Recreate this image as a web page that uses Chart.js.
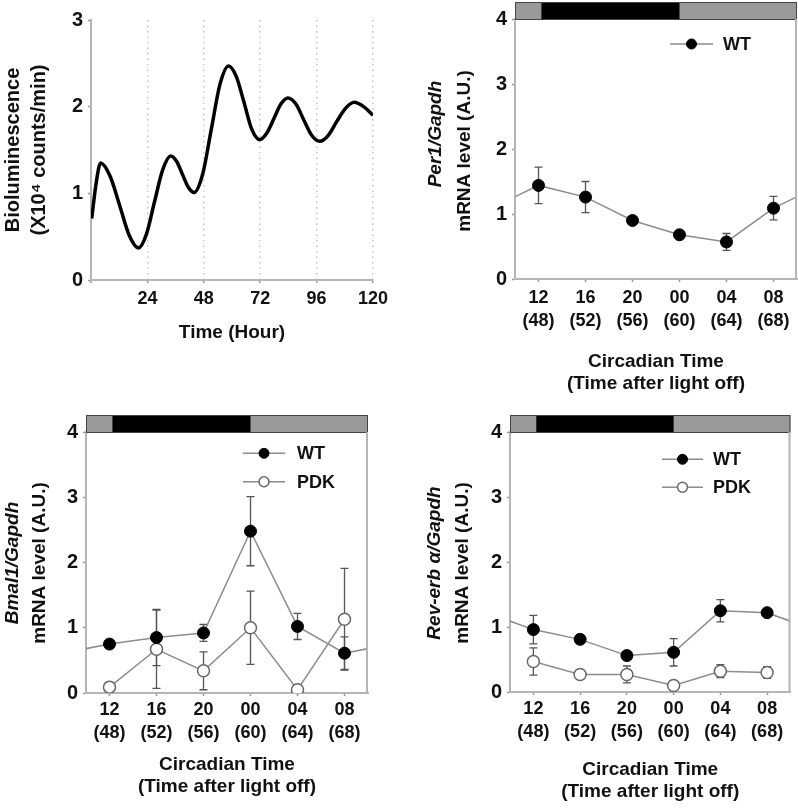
<!DOCTYPE html>
<html>
<head>
<meta charset="utf-8">
<script src="https://cdn.jsdelivr.net/npm/chart.js@4.4.0/dist/chart.umd.min.js"></script>
<style>
	body { margin: 0; background: #fff; }
	.wrap { position: relative; width: 798px; height: 808px; }
	canvas { position: absolute; }
</style>
</head>
<body>
<div class="wrap">
	<canvas id="bio" width="399" height="404" style="left:0;top:0"></canvas>
	<canvas id="per1" width="399" height="404" style="left:399px;top:0"></canvas>
	<canvas id="bmal1" width="399" height="404" style="left:0;top:404px"></canvas>
	<canvas id="reverb" width="399" height="404" style="left:399px;top:404px"></canvas>
</div>
<script>
const FONT = '"Liberation Sans", Arial, sans-serif';

// bioluminiscencia (horas / valores)
const bioHours = [
	0.3, 2.2, 4.1, 8.1, 12.2, 16.2, 20.2, 23.6, 27, 30.5, 33.9, 36.4, 38.9, 41.4, 43.9, 47.5, 51.2, 54.9, 58.5, 61.8, 65.1,
	68.4, 71.7, 74.7, 77.8, 80.8, 83.8, 87.2, 90.5, 93.9, 97.3, 101, 104.6, 108.3, 112, 116, 120,
];
const bioValues = [
	0.71, 1.12, 1.35, 1.2, 0.86, 0.52, 0.37, 0.53, 0.9, 1.27, 1.43, 1.37, 1.22, 1.07, 1.01, 1.22, 1.74, 2.26, 2.47, 2.35, 2.05,
	1.74, 1.62, 1.69, 1.86, 2.03, 2.1, 2.03, 1.85, 1.67, 1.6, 1.67, 1.83, 1.98, 2.05, 2.0, 1.9,
];
const bioXTicks = [0, 24, 48, 72, 96, 120];

// tiempos de muestreo
const sampleHours = [48, 52, 56, 60, 64, 68];
const ctLabels = ["12", "16", "20", "00", "04", "08"];
const lightOff = 48.25;
const lightOn = 60;

// Per1
const per1WT = [1.44, 1.26, 0.9, 0.68, 0.57, 1.09];
const per1WTErr = [0.28, 0.24, 0.04, 0.04, 0.13, 0.18];

// Bmal1
const bmal1WT = [0.75, 0.85, 0.92, 2.48, 1.02, 0.61];
const bmal1WTErr = [0.04, 0.43, 0.13, 0.53, 0.2, 0.25];
const bmal1PDK = [0.09, 0.67, 0.34, 1.0, 0.05, 1.13];
const bmal1PDKErr = [0.03, 0.6, 0.29, 0.56, 0.02, 0.78];

// Rev-erb alpha
const revWT = [0.96, 0.81, 0.56, 0.61, 1.25, 1.22];
const revWTErr = [0.22, 0.06, 0.04, 0.21, 0.17, 0.05];
const revPDK = [0.47, 0.27, 0.27, 0.1, 0.32, 0.3];
const revPDKErr = [0.21, 0.05, 0.13, 0.04, 0.1, 0.09];

Chart.defaults.font.family = FONT;
Chart.defaults.color = "#111";

//puntos con barra de error; wrap repite el ciclo fuera del area
const puntos = (vals, errs, wrap) => {
	const pts = vals.map((v, i) => ({ x: sampleHours[i], y: v, err: errs[i] }));
	if (wrap) {
		pts.unshift({ x: sampleHours[0] - 4, y: vals[vals.length - 1], wrap: true });
		pts.push({ x: sampleHours[sampleHours.length - 1] + 4, y: vals[0], wrap: true });
	}
	return pts;
};

const wtStyle = {
	borderColor: "#8c8c8c",
	borderWidth: 1.5,
	pointRadius: (c) => (c.raw && c.raw.wrap ? 0 : 6),
	pointBackgroundColor: "#000",
	pointBorderColor: "#000",
	pointBorderWidth: 1,
	tension: 0,
};
const pdkStyle = {
	borderColor: "#8c8c8c",
	borderWidth: 1.5,
	pointRadius: 6,
	pointBackgroundColor: "#fff",
	pointBorderColor: "#666",
	pointBorderWidth: 1.5,
	tension: 0,
};

//plugin: barras de error, barra luz/oscuridad, titulo eje y, leyenda
const makeDecor = (cfg) => ({
	id: "decor",
	beforeDatasetsDraw(chart) {
		const { ctx, scales: { y } } = chart;
		ctx.save();
		ctx.strokeStyle = "#555";
		ctx.lineWidth = 1.3;
		chart.data.datasets.forEach((ds, di) => {
			const meta = chart.getDatasetMeta(di);
			ds.data.forEach((p, i) => {
				if (p.err === undefined) return;
				const px = meta.data[i].x;
				const top = y.getPixelForValue(p.y + p.err);
				const bot = y.getPixelForValue(p.y - p.err);
				ctx.beginPath();
				ctx.moveTo(px, top);
				ctx.lineTo(px, bot);
				ctx.moveTo(px - 4, top);
				ctx.lineTo(px + 4, top);
				ctx.moveTo(px - 4, bot);
				ctx.lineTo(px + 4, bot);
				ctx.stroke();
			});
		});
		ctx.restore();
	},
	afterDraw(chart) {
		const { ctx, chartArea: a, scales: { x } } = chart;
		ctx.save();
		if (cfg.bar) {
			const bt = a.top - 17;
			const x0 = x.getPixelForValue(lightOff);
			const x1 = x.getPixelForValue(lightOn);
			ctx.fillStyle = "#9a9a9a";
			ctx.fillRect(a.left, bt, a.right - a.left, 17);
			ctx.fillStyle = "#000";
			ctx.fillRect(x0, bt, x1 - x0, 17);
			ctx.strokeStyle = "#444";
			ctx.lineWidth = 1;
			ctx.strokeRect(a.left + 0.5, bt + 0.5, a.right - a.left - 1, 17);
			ctx.strokeStyle = "#b5b5b5";
			ctx.lineWidth = 2;
			ctx.beginPath();
			ctx.moveTo(a.right - 1, a.top);
			ctx.lineTo(a.right - 1, a.bottom);
			ctx.stroke();
		}
		cfg.yTitle.forEach((t) => {
			ctx.save();
			ctx.translate(t.x, t.y);
			ctx.rotate(-Math.PI / 2);
			ctx.font = (t.italic ? "italic " : "") + "bold " + (t.size || 19) + "px " + FONT;
			ctx.fillStyle = "#111";
			ctx.textAlign = "center";
			ctx.textBaseline = "middle";
			ctx.fillText(t.text, 0, 0);
			ctx.restore();
		});
		(cfg.legend || []).forEach((l) => {
			const ds = chart.data.datasets[l.ds];
			const lx = cfg.legendX;
			ctx.strokeStyle = ds.borderColor;
			ctx.lineWidth = 1.5;
			ctx.beginPath();
			ctx.moveTo(lx.x1, l.y);
			ctx.lineTo(lx.x2, l.y);
			ctx.stroke();
			ctx.beginPath();
			ctx.arc((lx.x1 + lx.x2) / 2, l.y, 5, 0, Math.PI * 2);
			ctx.fillStyle = ds.pointBackgroundColor;
			ctx.fill();
			ctx.strokeStyle = ds.pointBorderColor;
			ctx.lineWidth = ds.pointBorderWidth;
			ctx.stroke();
			ctx.fillStyle = "#111";
			ctx.font = "bold 18px " + FONT;
			ctx.textAlign = "left";
			ctx.textBaseline = "middle";
			ctx.fillText(ds.label, lx.text, l.y + 1);
		});
		ctx.restore();
	},
});

// panel de bioluminiscencia
new Chart(document.getElementById("bio"), {
	type: "line",
	data: {
		datasets: [
			{
				label: "Bioluminescence",
				data: bioHours.map((h, i) => ({ x: h, y: bioValues[i] })),
				borderColor: "#000",
				borderWidth: 3.5,
				pointRadius: 0,
				cubicInterpolationMode: "monotone",
			},
		],
	},
	options: {
		responsive: false,
		animation: false,
		devicePixelRatio: 1,
		layout: { padding: { left: 0, top: 20, right: 26, bottom: 0 } },
		plugins: { legend: { display: false }, tooltip: { enabled: false } },
		scales: {
			x: {
				type: "linear",
				min: 0,
				max: 120,
				afterBuildTicks: (s) => {
					s.ticks = bioXTicks.map((v) => ({ value: v }));
				},
				afterFit: (s) => {
					s.height = 124;
				},
				ticks: {
					font: { size: 18, weight: "bold" },
					color: "#111",
					padding: 5,
					maxRotation: 0,
					autoSkip: false,
					callback: (v) => (v === 0 ? "" : v),
				},
				grid: {
					color: (c) => (c.tick && c.tick.value === 0 ? "rgba(0,0,0,0)" : "#c4c4c4"),
					lineWidth: 1.5,
					tickLength: 3,
					tickColor: "#999",
					tickWidth: 1.5,
					tickBorderDash: [],
				},
				border: { color: "#b5b5b5", width: 2, dash: [1.5, 4] },
				title: {
					display: true,
					text: "Time (Hour)",
					font: { size: 19, weight: "bold", lineHeight: 1.15 },
					color: "#111",
					padding: { top: 0, bottom: 60 },
				},
			},
			y: {
				min: 0,
				max: 3,
				afterFit: (s) => {
					s.width = 91;
				},
				ticks: { stepSize: 1, font: { size: 20, weight: "bold" }, color: "#111", padding: 5 },
				grid: { drawOnChartArea: false, tickLength: 3, tickColor: "#999", tickWidth: 1.5 },
				border: { color: "#b5b5b5", width: 2 },
			},
		},
	},
	plugins: [
		makeDecor({
			yTitle: [
				{ text: "Bioluminescence", x: 13.5, y: 150, size: 20 },
				{ text: "(X10\u2074 counts/min)", x: 39, y: 150, size: 20 },
			],
		}),
	],
});

// paneles de expresion genica
const genePanel = (id, datasets, cfg) =>
	new Chart(document.getElementById(id), {
		type: "line",
		data: { datasets },
		options: {
			responsive: false,
			animation: false,
			devicePixelRatio: 1,
			layout: { padding: { left: 0, top: cfg.area.top, right: 399 - cfg.area.right, bottom: 0 } },
			plugins: { legend: { display: false }, tooltip: { enabled: false } },
			scales: {
				x: {
					type: "linear",
					min: 46,
					max: 70,
					afterBuildTicks: (s) => {
						s.ticks = sampleHours.map((v) => ({ value: v }));
					},
					afterFit: (s) => {
						s.height = 404 - cfg.area.bottom;
					},
					ticks: {
						font: { size: 18, weight: "bold", lineHeight: 1.25 },
						color: "#111",
						padding: cfg.tickPad,
						maxRotation: 0,
						autoSkip: false,
						callback: (v) => [ctLabels[sampleHours.indexOf(v)], "(" + v + ")"],
					},
					grid: { drawOnChartArea: false, tickLength: 3, tickColor: "#999", tickWidth: 1.5 },
					border: { color: "#b5b5b5", width: 2 },
					title: {
						display: true,
						text: ["Circadian Time", "(Time after light off)"],
						font: { size: 19, weight: "bold", lineHeight: 1.15 },
						color: "#111",
						padding: { top: 0, bottom: cfg.titlePad },
					},
				},
				y: {
					min: 0,
					max: 4,
					afterFit: (s) => {
						s.width = cfg.area.left;
					},
					ticks: { stepSize: 1, font: { size: 20, weight: "bold" }, color: "#111", padding: 5 },
					grid: { drawOnChartArea: false, tickLength: 3, tickColor: "#999", tickWidth: 1.5 },
					border: { color: "#b5b5b5", width: 2 },
				},
			},
		},
		plugins: [makeDecor(cfg)],
	});

genePanel("per1", [{ label: "WT", data: puntos(per1WT, per1WTErr, true), ...wtStyle }], {
	area: { left: 116, top: 19, right: 398, bottom: 279 },
	tickPad: 5,
	titlePad: 9,
	bar: true,
	yTitle: [
		{ text: "Per1/Gapdh", italic: true, x: 36.5, y: 134 },
		{ text: "mRNA level (A.U.)", x: 66, y: 151 },
	],
	legend: [{ ds: 0, y: 44 }],
	legendX: { x1: 271, x2: 314, text: 324 },
});

genePanel(
	"bmal1",
	[
		{ label: "WT", data: puntos(bmal1WT, bmal1WTErr, true), ...wtStyle },
		{ label: "PDK", data: puntos(bmal1PDK, bmal1PDKErr, false), ...pdkStyle },
	],
	{
		area: { left: 86, top: 28, right: 368, bottom: 289 },
		tickPad: 3,
		titlePad: 10,
		bar: true,
		yTitle: [
			{ text: "Bmal1/Gapdh", italic: true, x: 12.5, y: 159 },
			{ text: "mRNA level (A.U.)", x: 40, y: 159 },
		],
		legend: [
			{ ds: 0, y: 49.3 },
			{ ds: 1, y: 77.7 },
		],
		legendX: { x1: 243, x2: 285, text: 297 },
	}
);

genePanel(
	"reverb",
	[
		{ label: "WT", data: puntos(revWT, revWTErr, true), ...wtStyle },
		{ label: "PDK", data: puntos(revPDK, revPDKErr, false), ...pdkStyle },
	],
	{
		area: { left: 111, top: 28, right: 393, bottom: 288 },
		tickPad: 3,
		titlePad: 5,
		bar: true,
		yTitle: [
			{ text: "Rev-erb \u03b1/Gapdh", italic: true, x: 36, y: 159 },
			{ text: "mRNA level (A.U.)", x: 63.5, y: 159 },
		],
		legend: [
			{ ds: 0, y: 55.3 },
			{ ds: 1, y: 83.3 },
		],
		legendX: { x1: 263, x2: 304, text: 314 },
	}
);
</script>
</body>
</html>
